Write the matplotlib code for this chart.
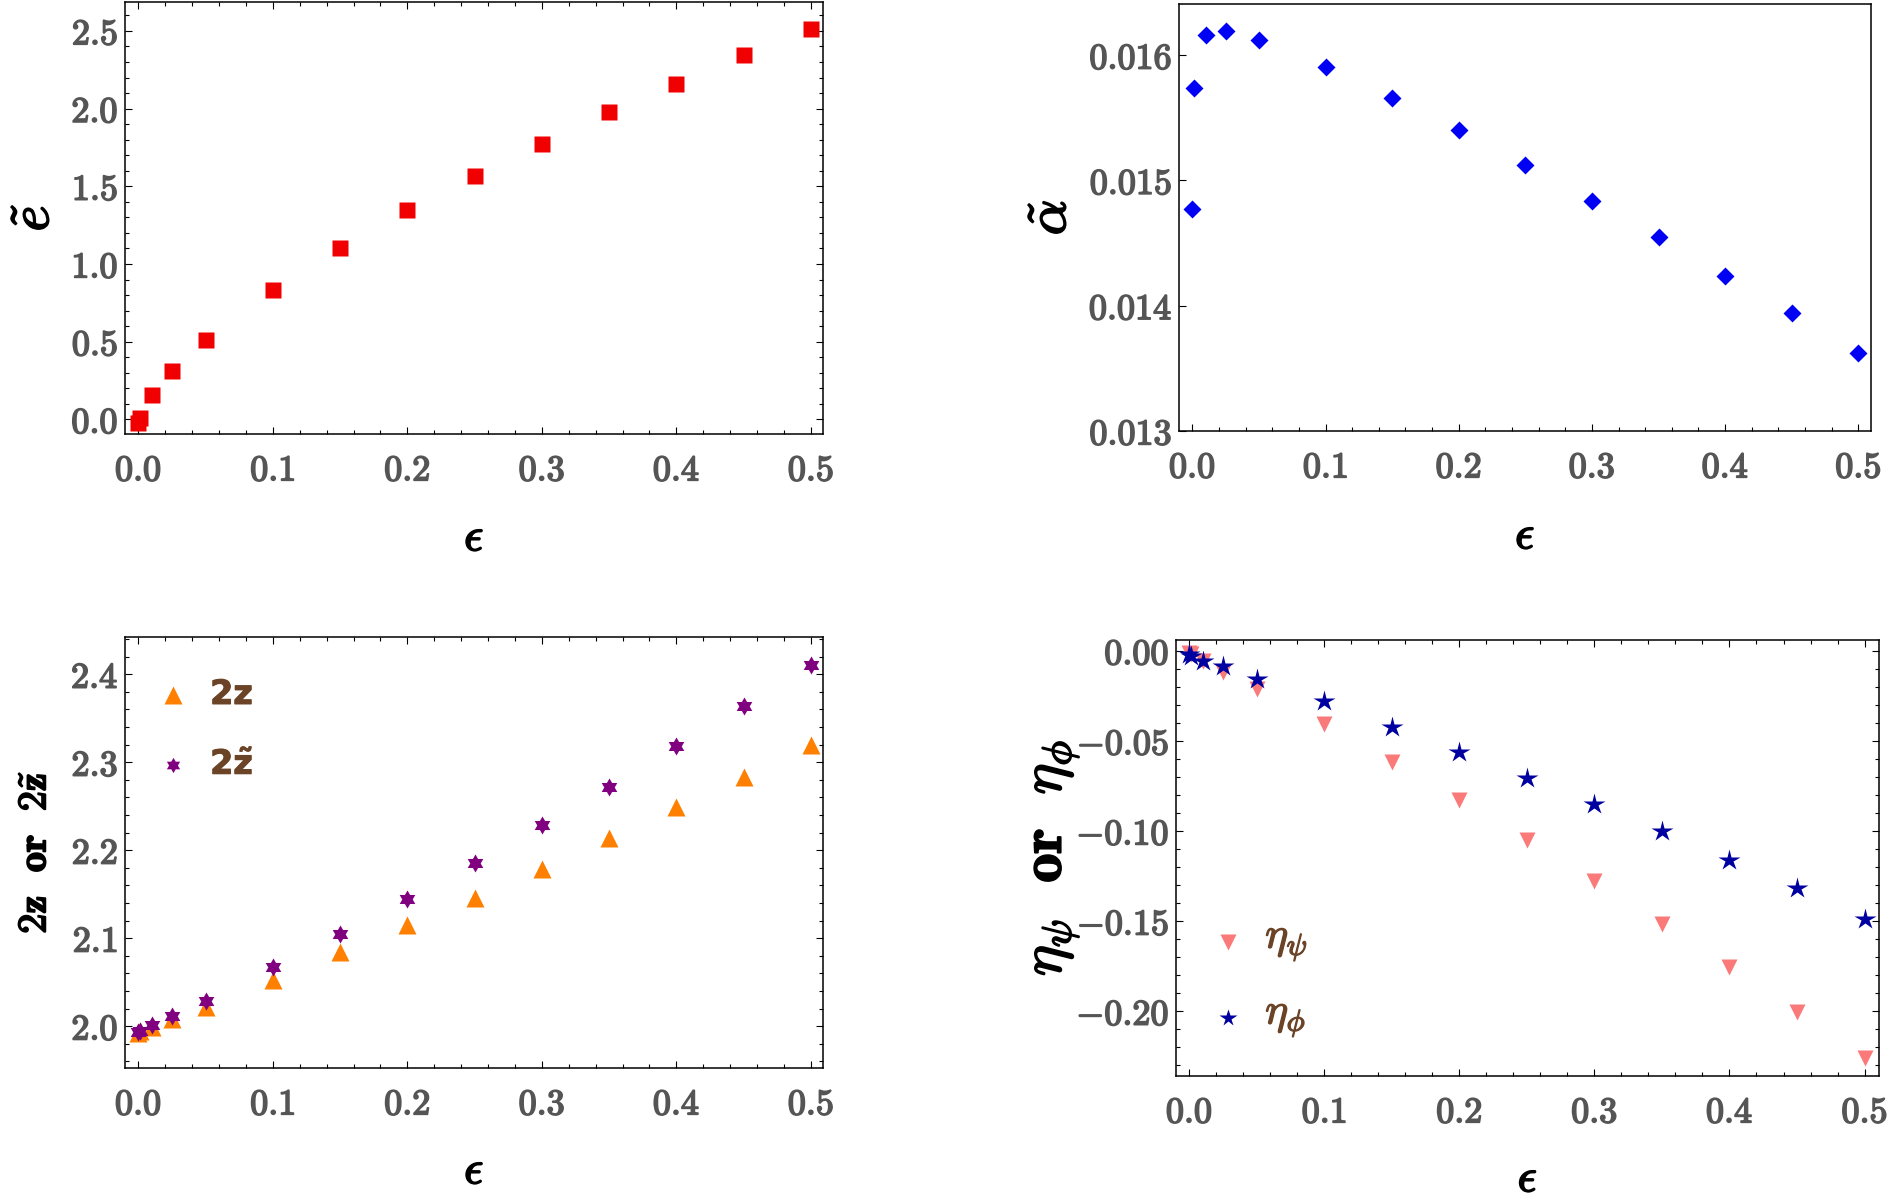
import numpy as np
import matplotlib
matplotlib.use("Agg")
import matplotlib.pyplot as plt
import matplotlib.patheffects as pe
from matplotlib.path import Path
from matplotlib.ticker import MultipleLocator, FixedLocator, FuncFormatter

plt.rcParams['mathtext.fontset'] = 'cm'
plt.rcParams['font.family'] = ['DejaVu Serif']

# --- data ---
eps = [0.0, 0.001, 0.01, 0.025, 0.05, 0.1, 0.15, 0.2, 0.25, 0.3, 0.35, 0.4, 0.45, 0.5]

e_tilde = [-0.02, 0.01, 0.156, 0.314, 0.513, 0.834, 1.106, 1.349, 1.569, 1.775,
           1.975, 2.161, 2.344, 2.51]

a_tilde = [0.01477, 0.01574, 0.01616, 0.01619, 0.016125, 0.01591, 0.01566, 0.0154,
           0.01512, 0.01484, 0.01455, 0.01424, 0.01394, 0.01362]

two_z = [1.992, 1.994, 1.999, 2.008, 2.022, 2.052, 2.084, 2.115, 2.146, 2.179,
         2.214, 2.249, 2.283, 2.320]
two_z_tilde = [1.993, 1.995, 2.001, 2.011, 2.029, 2.067, 2.105, 2.145, 2.186, 2.229,
               2.272, 2.318, 2.364, 2.411]

eta_psi = [-0.001, -0.002, -0.0055, -0.012, -0.0212, -0.0406, -0.0618, -0.0827,
           -0.105, -0.1276, -0.1513, -0.1757, -0.2004, -0.2259]
eta_phi = [-0.002, -0.003, -0.0055, -0.0085, -0.0155, -0.0278, -0.0421, -0.056,
           -0.0703, -0.0848, -0.0998, -0.1158, -0.1318, -0.1489]

TICK_GRAY = '#555555'
BROWN = '#6B4326'


def heavy(lw=1.0):
    # cm bold is light, thicken it a bit
    return [pe.Stroke(linewidth=lw), pe.Normal()]


# six pointed star (hexagram) marker
ang = np.pi / 2 + np.arange(12) * np.pi / 6
rad = np.where(np.arange(12) % 2 == 0, 1.0, 1 / np.sqrt(3))
hexagram = Path(np.column_stack([rad * np.cos(ang), rad * np.sin(ang)]).tolist() + [[0, 1]],
                closed=True)

W, H = 1890, 1204
fig = plt.figure(figsize=(W / 100, H / 100), dpi=100)


def px_axes(left, top, right, bottom):
    return fig.add_axes([left / W, 1 - bottom / H, (right - left) / W, (bottom - top) / H])


def bold_fmt(fmt):
    return FuncFormatter(lambda v, p: r'$\mathbf{%s}$' % (fmt % v))


def style(ax, xlim, ylim, yticks, yfmt, yminor, frame_ticks=True):
    ax.set_xlim(*xlim)
    ax.set_ylim(*ylim)
    ax.xaxis.set_major_locator(FixedLocator([0, 0.1, 0.2, 0.3, 0.4, 0.5]))
    ax.xaxis.set_minor_locator(MultipleLocator(0.02))
    ax.xaxis.set_major_formatter(bold_fmt('%.1f'))
    ax.yaxis.set_major_locator(FixedLocator(yticks))
    if yminor:
        ax.yaxis.set_minor_locator(MultipleLocator(yminor))
    ax.yaxis.set_major_formatter(bold_fmt(yfmt))
    for s in ax.spines.values():
        s.set_linewidth(1.1)
    ax.tick_params(which='both', direction='in', top=frame_ticks, right=frame_ticks,
                   labelcolor=TICK_GRAY, labelsize=26, width=0.8)
    ax.tick_params(which='major', length=5)
    ax.tick_params(which='minor', length=2.8)
    ax.tick_params(axis='x', which='both', pad=14)
    ax.tick_params(axis='y', which='both', pad=5)
    for lbl in ax.get_xticklabels() + ax.get_yticklabels():
        lbl.set_path_effects(heavy(1.2))
    ax.set_xlabel(r'$\epsilon$', fontsize=34, path_effects=heavy(1.3))
    ax.xaxis.label.set_va('center')


def put_labels(ax, xoff, yoff):
    # offsets in pixels from the axes edge
    bb = ax.get_position()
    ax.xaxis.set_label_coords(0.5, -yoff / (bb.height * H))
    ax.yaxis.set_label_coords(-xoff / (bb.width * W), 0.5)
    ax.yaxis.label.set_va('center')
    ax.yaxis.label.set_path_effects(heavy(1.3))


# top left
ax1 = px_axes(125, 2, 823, 434)
ax1.plot(eps, e_tilde, ls='none', marker='s', ms=11, color='#F00000', mec='none')
style(ax1, (-0.0099, 0.509), (-0.094, 2.686), [0, 0.5, 1.0, 1.5, 2.0, 2.5], '%.1f', 0.1)
ax1.set_ylabel(r'$\tilde{e}$', fontsize=40)
put_labels(ax1, 92, 104)

# top right
ax2 = px_axes(1179, 4, 1871, 431)
ax2.plot(eps, a_tilde, ls='none', marker='D', ms=9, color='#0000F5', mec='none')
style(ax2, (-0.01, 0.5095), (0.013, 0.016409), [0.013, 0.014, 0.015, 0.016], '%.3f',
      None, frame_ticks=False)
ax2.set_ylabel(r'$\tilde{\alpha}$', fontsize=40)
put_labels(ax2, 129, 105)

# bottom left
ax3 = px_axes(125, 637, 823, 1068)
ax3.plot(eps, two_z, ls='none', marker='^', ms=13, color='#FF8000', mec='none')
ax3.plot(eps, two_z_tilde, ls='none', marker=hexagram, ms=13, color='#800080', mec='none')
style(ax3, (-0.0099, 0.509), (1.9524, 2.4424), [2.0, 2.1, 2.2, 2.3, 2.4], '%.1f', 0.02)
ax3.set_ylabel(r'$\mathbf{2z}\ \ \mathbf{or}\ \ \mathbf{2}\tilde{\mathbf{z}}$', fontsize=29)
put_labels(ax3, 90, 103)
leg3 = [('^', '#FF8000', 13, r'$\mathbf{2z}$', 0.865),
        (hexagram, '#800080', 11, r'$\mathbf{2\tilde{z}}$', 0.703)]
for mk, col, ms, lab, yy in leg3:
    ax3.plot([0.069], [yy], ls='none', marker=mk, ms=ms, color=col, mec='none',
             transform=ax3.transAxes)
    ax3.text(0.122, yy, lab, transform=ax3.transAxes, va='center', ha='left',
             fontsize=24, color=BROWN, math_fontfamily='dejavusans',
             path_effects=heavy(0.8))

# bottom right
ax4 = px_axes(1176, 640, 1879, 1076)
ax4.plot(eps, eta_psi, ls='none', marker='v', ms=12, color='#FA7A7A', mec='none')
ax4.plot(eps, eta_phi, ls='none', marker='*', ms=16, color='#0000A0', mec='none')
style(ax4, (-0.0098, 0.5107), (-0.2359, 0.006), [-0.20, -0.15, -0.10, -0.05, 0.0], '%.2f',
      0.01)
ax4.set_ylabel(r'$\eta_\psi\ \ \mathbf{or}\ \ \eta_\phi$', fontsize=42)
put_labels(ax4, 123, 103)
leg4 = [('v', '#FA7A7A', 12, r'$\eta_\psi$', 0.307),
        ('*', '#0000A0', 13, r'$\eta_\phi$', 0.133)]
for mk, col, ms, lab, yy in leg4:
    ax4.plot([0.074], [yy], ls='none', marker=mk, ms=ms, color=col, mec='none',
             transform=ax4.transAxes)
    ax4.text(0.127, yy, lab, transform=ax4.transAxes, va='center', ha='left',
             fontsize=31, color=BROWN, path_effects=heavy(1.0))

fig.savefig('out.png', dpi=100)
